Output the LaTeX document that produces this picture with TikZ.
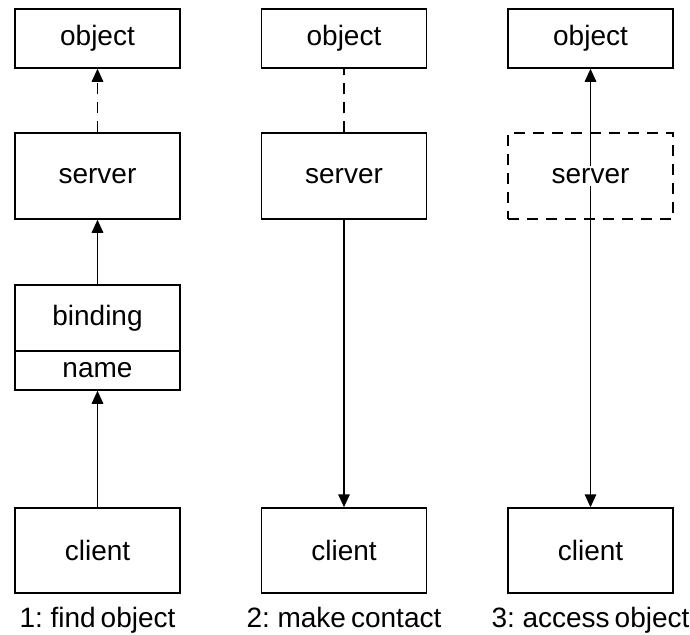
\documentclass[tikz,border=0pt]{standalone}
\usepackage{fontspec}
\setmainfont{Liberation Sans}
\newfontfamily\capfont[WordSpace=0.65]{Liberation Sans}
\usetikzlibrary{arrows.meta}
\tikzset{
  box/.style={draw, line width=1.5pt, minimum width=165pt, inner sep=0pt, font=\fontsize{28}{30}\selectfont},
  con/.style={line width=1.6pt},
  tipend/.style={-{Triangle[length=13pt,width=11.5pt]}},
  tipboth/.style={{Triangle[length=13pt,width=11.5pt]}-{Triangle[length=13pt,width=11.5pt]}},
  dashline/.style={dash pattern=on 11pt off 8pt},
  caption/.style={anchor=base, inner sep=0pt, font=\capfont\fontsize{28}{30}\selectfont},
  txt/.style={inner sep=2pt, fill=white, font=\fontsize{28}{30}\selectfont}
}
\begin{document}
\begin{tikzpicture}[x=1pt,y=-1pt]
\useasboundingbox (0,0) rectangle (690,634);
% column 1
\node[box, minimum height=59pt] (obj1) at (97.5,38.5) {object};
\node[box, minimum height=86pt] (srv1) at (97.5,176) {server};
\node[box, minimum height=66pt] (bind1) at (97.5,318) {binding};
\node[box, minimum height=39pt] (name1) at (97.5,370.5) {name};
\node[box, minimum height=85pt] (cli1) at (97.5,550.5) {client};
\draw[con, dashline, tipend] (srv1.north) -- (obj1.south);
\draw[con, tipend] (bind1.north) -- (srv1.south);
\draw[con, tipend] (cli1.north) -- (name1.south);
\node[caption] (cap1) at (97.5,627) {1: find object};
% column 2
\node[box, minimum height=59pt] (obj2) at (344,38.5) {object};
\node[box, minimum height=86pt] (srv2) at (344,176) {server};
\node[box, minimum height=85pt] (cli2) at (344,550.5) {client};
\draw[con, dashline] (srv2.north) -- (obj2.south);
\draw[con, tipend] (srv2.south) -- (cli2.north);
\node[caption] (cap2) at (344,627) {2: make contact};
% column 3
\node[box, minimum height=59pt] (obj3) at (590.5,38.5) {object};
\node[box, dashline, minimum height=86pt] (srv3) at (590.5,176) {};
\node[box, minimum height=85pt] (cli3) at (590.5,550.5) {client};
\draw[con, tipboth] (obj3.south) -- (cli3.north);
\node[txt] (srv3t) at (srv3.center) {server};
\node[caption] (cap3) at (590.5,627) {3: access object};
\end{tikzpicture}
\end{document}
